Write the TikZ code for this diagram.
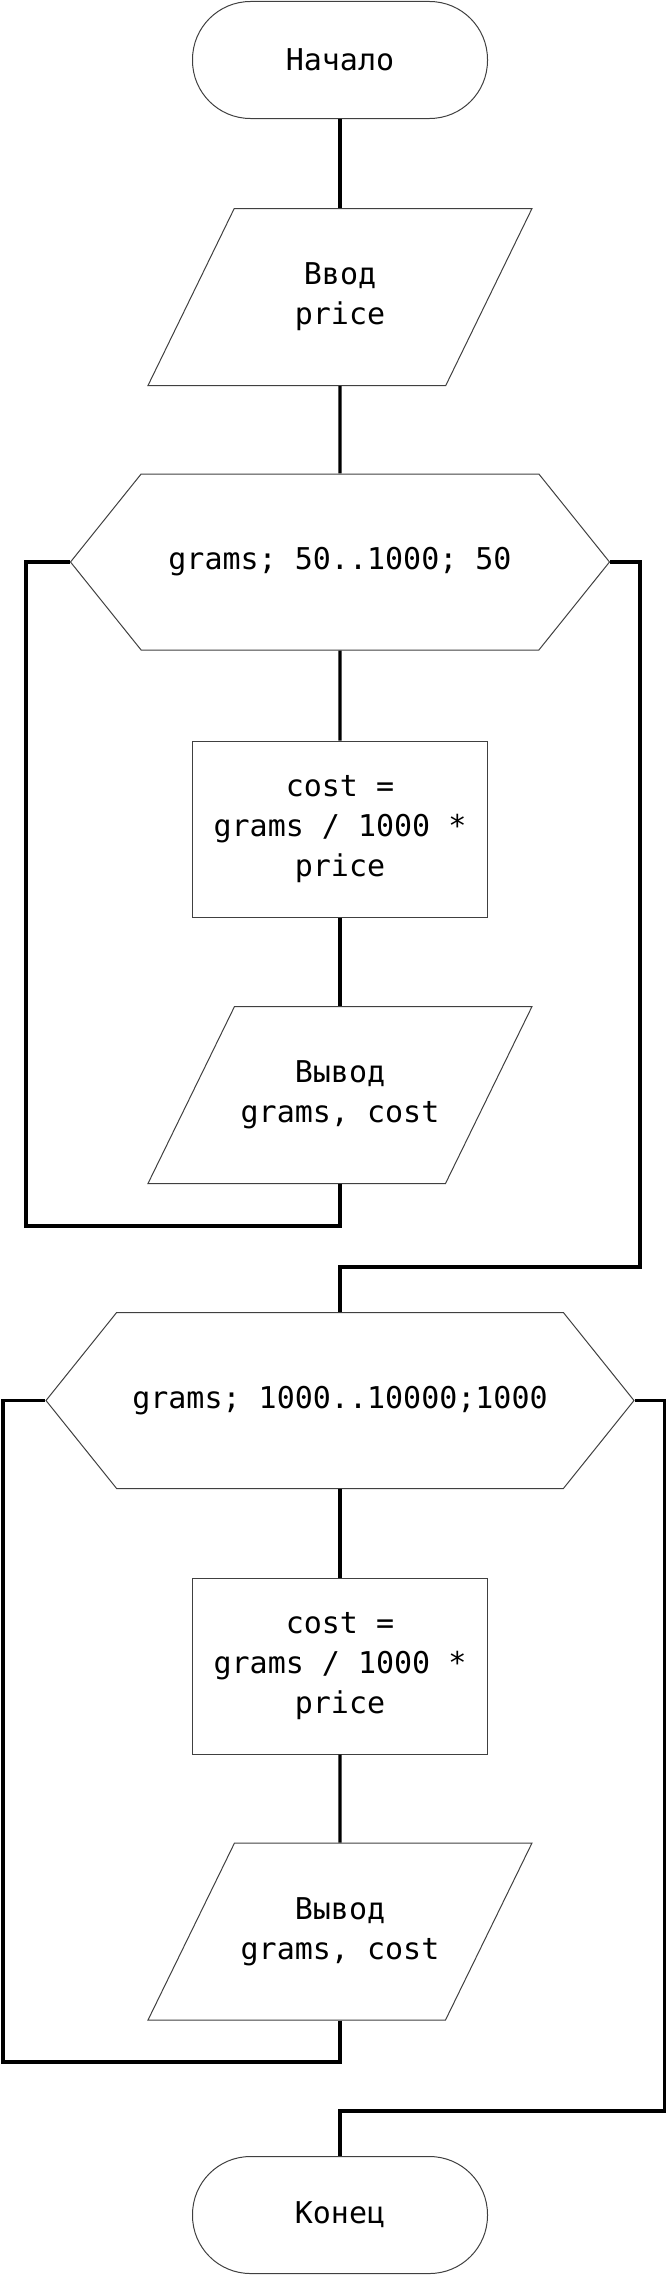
\documentclass[tikz,border=0pt]{standalone}
\usepackage{fontspec}
\usepackage{tikz}
\usetikzlibrary{shapes.geometric,shapes.symbols}
\newfontfamily\flowfont{DejaVu Sans Mono}

\begin{document}
\begin{tikzpicture}[x=1pt,y=-1pt,
    every node/.style={font=\flowfont\fontsize{30}{40}\selectfont,align=center,
      draw=black!75,line width=1pt,inner sep=0pt},
    term/.style={rectangle,rounded corners=58pt,minimum width=295pt,minimum height=117pt},
    io/.style={trapezium,trapezium left angle=38.3,trapezium right angle=141.7,
      trapezium stretches body=true,minimum width=384pt,minimum height=177pt},
    calc/.style={rectangle,minimum width=295pt,minimum height=176pt},
    loophead/.style={signal,signal to=east and west,signal pointer angle=102.5,
      minimum height=176pt},
    line/.style={line width=3.3pt}]
  \useasboundingbox (0,0) rectangle (666,2275);
  % first loop
  \node[term] (start) at (340,60) {Начало};
  \node[io] (in) at (340,297) {Ввод\\price};
  \node[loophead,minimum width=539pt] (loop1) at (340,562) {grams; 50..1000; 50};
  \node[calc] (calc1) at (340,829) {cost =\\grams / 1000 *\\price};
  \node[io] (out1) at (340,1095) {Вывод\\grams, cost};
  % second loop
  \node[loophead,minimum width=588pt] (loop2) at (340,1400.5) {grams; 1000..10000;1000};
  \node[calc] (calc2) at (340,1666) {cost =\\grams / 1000 *\\price};
  \node[io] (out2) at (340,1931.5) {Вывод\\grams, cost};
  \node[term] (end) at (340,2215) {Конец};
  % turning points of the loops
  \coordinate (back1) at (26,1226);
  \coordinate (exit1) at (640,1267);
  \coordinate (back2) at (3,2062);
  \coordinate (exit2) at (664.5,2111);
  \draw[line] (start) -- (in);
  \draw[line] (in) -- (loop1);
  \draw[line] (loop1) -- (calc1);
  \draw[line] (calc1) -- (out1);
  \draw[line] (out1) |- (back1) |- (loop1.west);
  \draw[line] (loop1.east) -| (exit1) -| (loop2);
  \draw[line] (loop2) -- (calc2);
  \draw[line] (calc2) -- (out2);
  \draw[line] (out2) |- (back2) |- (loop2.west);
  \draw[line] (loop2.east) -| (exit2) -| (end);
\end{tikzpicture}
\end{document}
